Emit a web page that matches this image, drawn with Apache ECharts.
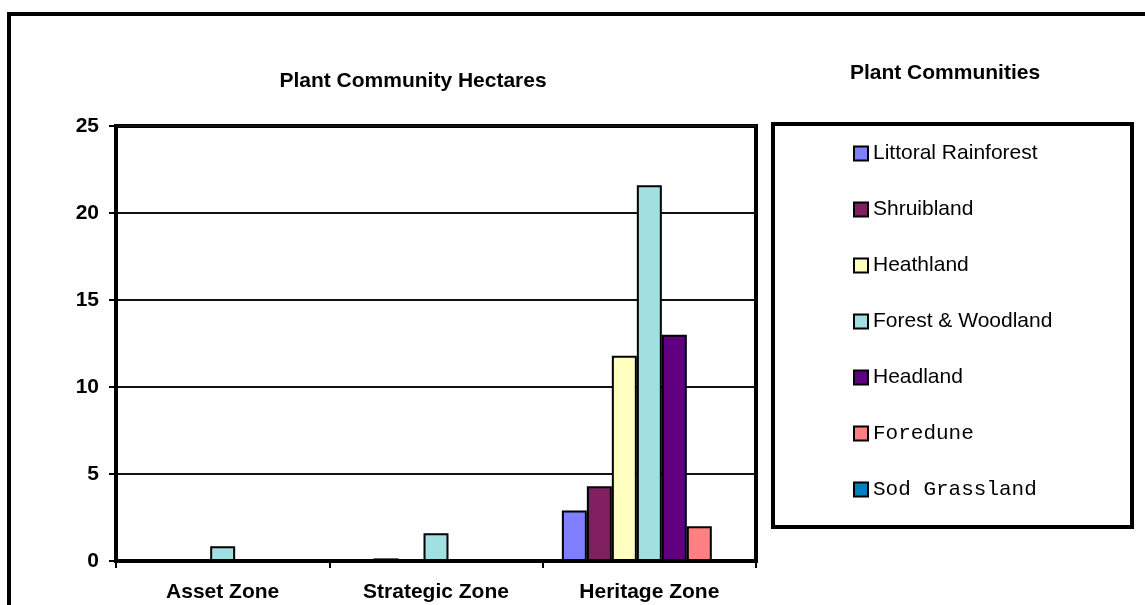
<!DOCTYPE html>
<html>
<head>
<meta charset="utf-8">
<script src="https://cdn.jsdelivr.net/npm/echarts@6/dist/echarts.min.js"></script>
<style>
  html, body { margin: 0; padding: 0; background: #fff; }
  #chart { width: 1145px; height: 605px; }
</style>
</head>
<body>
<div id="chart"></div>
<script>
// zones along the x axis
const zones = ["Asset Zone", "Strategic Zone", "Heritage Zone"];

// hectares per community, one value per zone
const littoralRainforest = [0, 0, 2.9];
const shrubland = [0, 0.15, 4.3];
const heathland = [0, 0, 11.8];
const forestWoodland = [0.85, 1.6, 21.6];
const headland = [0, 0, 13.0];
const foredune = [0, 0, 2.0];
const sodGrassland = [0, 0, 0];

const yTicks = { min: 0, max: 25, step: 5 };

const sans = "'Liberation Sans', Arial, sans-serif";
const mono = "'Liberation Mono', 'Courier New', monospace";
const fs = 21;

const seriesDefs = [
  { name: "Littoral Rainforest", data: littoralRainforest, color: "#8080ff", font: sans },
  { name: "Shruibland", data: shrubland, color: "#802060", font: sans },
  { name: "Heathland", data: heathland, color: "#ffffc0", font: sans },
  { name: "Forest & Woodland", data: forestWoodland, color: "#a0e0e0", font: sans },
  { name: "Headland", data: headland, color: "#600080", font: sans },
  { name: "Foredune", data: foredune, color: "#ff8080", font: mono },
  { name: "Sod Grassland", data: sodGrassland, color: "#0080c0", font: mono },
];

const chart = echarts.init(document.getElementById("chart"));

chart.setOption({
  animation: false,
  textStyle: { fontFamily: sans },
  title: [
    {
      text: "Plant Community Hectares",
      left: 408,
      top: 66,
      textAlign: "center",
      textStyle: { fontSize: fs, fontWeight: "bold", color: "#000", fontFamily: sans },
    },
    {
      text: "Plant Communities",
      left: 940,
      top: 58,
      textAlign: "center",
      textStyle: { fontSize: fs, fontWeight: "bold", color: "#000", fontFamily: sans },
    },
  ],
  graphic: [
    {
      type: "rect",
      shape: { x: 9, y: 14, width: 1200, height: 700 },
      style: { fill: "none", stroke: "#000", lineWidth: 4 },
      z: 10,
    },
    {
      type: "rect",
      shape: { x: 773, y: 124, width: 359, height: 403 },
      style: { fill: "none", stroke: "#000", lineWidth: 4 },
      z: 10,
    },
  ],
  legend: {
    orient: "vertical",
    left: 848,
    top: 138,
    itemWidth: 14,
    itemHeight: 14,
    itemGap: 35,
    itemTextGap: 5,
    icon: "rect",
    itemStyle: { borderColor: "#000", borderWidth: 2 },
    textStyle: { fontSize: fs, color: "#000" },
    data: seriesDefs.map((s) => ({
      name: s.name,
      textStyle: { fontFamily: s.font, fontSize: fs },
    })),
  },
  grid: {
    left: 116,
    right: 389,
    top: 126,
    bottom: 44,
    show: true,
    borderColor: "#000",
    borderWidth: 4,
    containLabel: false,
  },
  xAxis: {
    type: "category",
    data: zones,
    axisLine: { lineStyle: { color: "#000", width: 4 } },
    axisTick: { show: true, length: 7, lineStyle: { color: "#000", width: 2 } },
    axisLabel: { fontSize: fs, fontWeight: "bold", color: "#000", margin: 21 },
  },
  yAxis: {
    type: "value",
    min: yTicks.min,
    max: yTicks.max,
    interval: yTicks.step,
    axisLine: { show: true, lineStyle: { color: "#000", width: 4 } },
    axisTick: { show: true, length: 7, lineStyle: { color: "#000", width: 2 } },
    axisLabel: { fontSize: fs, fontWeight: "bold", color: "#000", margin: 17 },
    splitLine: { lineStyle: { color: "#111", width: 2 } },
  },
  series: seriesDefs.map((s) => ({
    name: s.name,
    type: "bar",
    data: s.data,
    barGap: "0%",
    barCategoryGap: "18%",
    itemStyle: { color: s.color, borderColor: "#000", borderWidth: 2 },
  })),
});
</script>
</body>
</html>
